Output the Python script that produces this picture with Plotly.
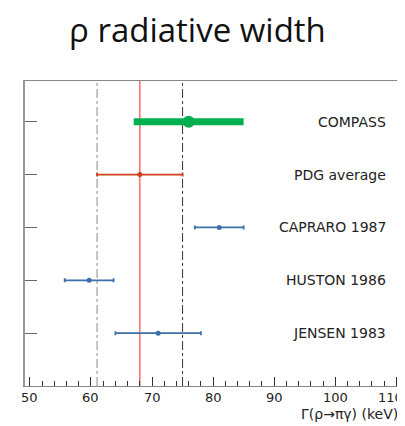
import plotly.graph_objects as go

experiments = ["JENSEN 1983", "HUSTON 1986", "CAPRARO 1987", "PDG average", "COMPASS"]
rows = [1, 2, 3, 4, 5]
values = [71.0, 59.7, 81.0, 68.0, 76.0]
errors = [7.0, 4.0, 4.0, 7.0, 9.0]
pdg_value = 68.0
pdg_band = [61.0, 75.0]
xticks = [50, 60, 70, 80, 90, 100, 110]
xtick_labels = ["50", "60", "70", "80", "90", "100", "110"]

blue = "#3d6fa8"
fig = go.Figure()

# reference lines
for xv, col in [(pdg_band[0], "#888888"), (pdg_band[1], "#333333")]:
    fig.add_shape(type="line", x0=xv, x1=xv, y0=0, y1=1, xref="x", yref="paper",
                  line=dict(color=col, width=1, dash="dashdot"), layer="below")
fig.add_shape(type="line", x0=pdg_value, x1=pdg_value, y0=0, y1=1, xref="x", yref="paper",
              line=dict(color="#ff5555", width=1.3), layer="below")

# older measurements
fig.add_trace(go.Scatter(
    x=values[:3], y=rows[:3], mode="markers",
    marker=dict(color=blue, size=5),
    error_x=dict(type="data", array=errors[:3], color=blue, thickness=1.8, width=2),
    showlegend=False))
# PDG
fig.add_trace(go.Scatter(
    x=[values[3]], y=[rows[3]], mode="markers",
    marker=dict(color="#d0401c", size=5),
    error_x=dict(type="data", array=[errors[3]], color="#d0401c", thickness=1.8, width=2),
    showlegend=False))
# COMPASS
fig.add_trace(go.Scatter(
    x=[values[4]], y=[rows[4]], mode="markers",
    marker=dict(color="#00b050", size=12),
    error_x=dict(type="data", array=[errors[4]], color="#00b050", thickness=7, width=0),
    showlegend=False))

for name, r in zip(experiments, rows):
    fig.add_annotation(x=0.968, xref="paper", y=r, yref="y", text=name, showarrow=False,
                       xanchor="right", font=dict(family="DejaVu Sans", size=14, color="#222222"))

# tick labels (last one nudged left to stay inside the page, as in the reference)
tickfont = dict(family="DejaVu Sans", size=13, color="#222222")
for i, (tv, tl) in enumerate(zip(xticks, xtick_labels)):
    last = i == len(xticks) - 1
    fig.add_annotation(x=tv, xref="x", y=0, yref="paper", yanchor="middle", yshift=-11,
                       xshift=-6 if last else 0, text=tl, showarrow=False, font=tickfont)

fig.add_annotation(x=0.459, xref="paper", y=1, yref="paper", yanchor="middle", yshift=52,
                   text="ρ radiative width", showarrow=False,
                   font=dict(family="Open Sans", size=33, color="#111111"))
fig.add_annotation(x=1.0, xref="paper", y=0, yref="paper", yanchor="middle", yshift=-28,
                   text="Γ(ρ→πγ) (keV)", showarrow=False, xanchor="right",
                   font=dict(family="DejaVu Sans", size=14, color="#222222"))

# page body has an 8px margin; figure size compensates so plot sits at the reference position
fig.update_layout(
    width=397, height=418, margin=dict(l=17, r=5, t=73, b=40),
    plot_bgcolor="white", paper_bgcolor="white",
    xaxis=dict(range=[49.2, 110.6], tickvals=xticks, showticklabels=False,
               ticks="inside", ticklen=9, automargin=False,
               tickcolor="#333333", showgrid=False, zeroline=False,
               showline=True, linecolor="#888888", linewidth=1, mirror=True,
               minor=dict(ticks="inside", dtick=2, tick0=50, ticklen=5, tickcolor="#333333", showgrid=False)),
    yaxis=dict(range=[0, 5.77], tickvals=rows, ticks="inside", ticklen=12, tickcolor="#666666",
               showticklabels=False, showgrid=False, zeroline=False, automargin=False,
               showline=True, linecolor="#999999", linewidth=2, mirror=True),
)
fig.write_html("out.html")
